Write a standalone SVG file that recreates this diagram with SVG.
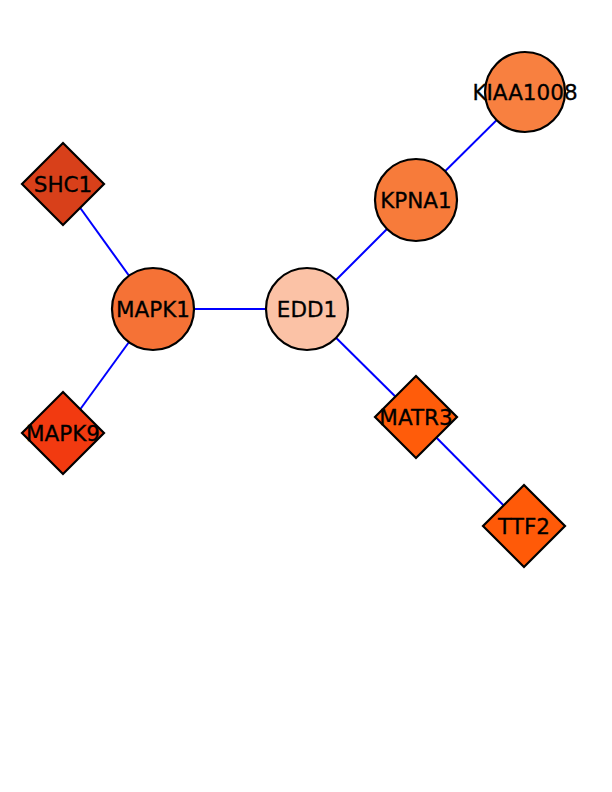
<svg xmlns="http://www.w3.org/2000/svg" width="612" height="792" viewBox="0 0 612 792">
<style>
.e{stroke:#0000ff;stroke-width:2;fill:none}
.n{stroke:#000;stroke-width:2.2}
.t{font-family:"DejaVu Sans",sans-serif;font-size:21.5px;fill:#000;text-anchor:middle;stroke:#000;stroke-width:0.3}
</style>
<rect width="612" height="792" fill="#fff"/>
<g id="edges">
<line class="e" x1="63" y1="184" x2="153" y2="309"/>
<line class="e" x1="63" y1="433" x2="153" y2="309"/>
<line class="e" x1="153" y1="309" x2="307" y2="309"/>
<line class="e" x1="307" y1="309" x2="416" y2="200"/>
<line class="e" x1="416" y1="200" x2="525" y2="92"/>
<line class="e" x1="307" y1="309" x2="416" y2="417"/>
<line class="e" x1="416" y1="417" x2="524" y2="526"/>
</g>
<g id="SHC1"><polygon class="n" fill="#d8401a" points="63,143 104,184 63,225 22,184"/><text class="t" x="63" y="192">SHC1</text></g>
<g id="MAPK9"><polygon class="n" fill="#f23a10" points="63,392 104,433 63,474 22,433"/><text class="t" x="63" y="441">MAPK9</text></g>
<g id="MAPK1"><circle class="n" fill="#f57236" cx="153" cy="309" r="41"/><text class="t" x="153" y="317">MAPK1</text></g>
<g id="EDD1"><circle class="n" fill="#fbc2a6" cx="307" cy="309" r="41"/><text class="t" x="307" y="317">EDD1</text></g>
<g id="KPNA1"><circle class="n" fill="#f77b3a" cx="416" cy="200" r="41"/><text class="t" x="416" y="208">KPNA1</text></g>
<g id="KIAA1008"><circle class="n" fill="#f88040" cx="525" cy="92" r="40"/><text class="t" x="525" y="100">KIAA1008</text></g>
<g id="MATR3"><polygon class="n" fill="#ff5c0a" points="416,376 457,417 416,458 375,417"/><text class="t" x="416" y="425">MATR3</text></g>
<g id="TTF2"><polygon class="n" fill="#ff5a08" points="524,485 565,526 524,567 483,526"/><text class="t" x="524" y="534">TTF2</text></g>
</svg>
